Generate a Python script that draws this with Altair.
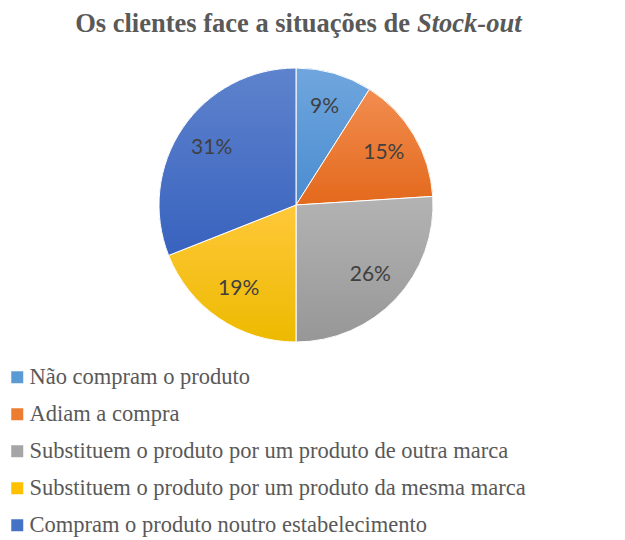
import altair as alt
import pandas as pd

categories = [
    "Não compram o produto",
    "Adiam a compra",
    "Substituem o produto por um produto de outra marca",
    "Substituem o produto por um produto da mesma marca",
    "Compram o produto noutro estabelecimento",
]
values = [9, 15, 26, 19, 31]
labels = ["9%", "15%", "26%", "19%", "31%"]
base_colors = ["#5B9BD5", "#ED7D31", "#A5A5A5", "#FFC000", "#4472C4"]
grad_top = ["#70A6DE", "#F28D50", "#B3B3B3", "#FFC83A", "#5E83CD"]
grad_bottom = ["#4A8CD0", "#E3691C", "#979797", "#EDBA00", "#3862BE"]

df = pd.DataFrame({"cat": categories, "value": values, "label": labels, "idx": list(range(len(categories)))})

CX, CY, R = 288, 197, 137
SERIF = "Liberation Serif"

def grad(top, bottom):
    return {"gradient": "linear", "x1": 0, "y1": 0, "x2": 0, "y2": 1,
            "stops": [{"offset": 0, "color": top}, {"offset": 1, "color": bottom}]}

base = alt.Chart(df).encode(
    theta=alt.Theta("value:Q", stack=True),
    order=alt.Order("idx:Q", sort="ascending"),
    x=alt.value(CX), y=alt.value(CY),
)

legend_layer = base.mark_arc(outerRadius=R).encode(
    color=alt.Color("cat:N", scale=alt.Scale(domain=categories, range=base_colors),
                    sort=categories,
                    legend=alt.Legend(title=None, orient="none", legendX=-2, legendY=358,
                                      symbolType="square", symbolSize=144,
                                      symbolStrokeWidth=0,
                                      labelFont=SERIF, labelFontSize=22.5,
                                      labelColor="#595959", labelOffset=1,
                                      labelLimit=700, rowPadding=14))
)

fill_cond = alt.when(alt.datum.cat == categories[0]).then(alt.value(grad(grad_top[0], grad_bottom[0])))
for i in range(1, len(categories) - 1):
    fill_cond = fill_cond.when(alt.datum.cat == categories[i]).then(alt.value(grad(grad_top[i], grad_bottom[i])))
fill_cond = fill_cond.otherwise(alt.value(grad(grad_top[-1], grad_bottom[-1])))

grad_layer = base.mark_arc(outerRadius=R, stroke="white", strokeWidth=1).encode(fill=fill_cond)

text_layer = base.mark_text(radius=102, font="Lato", fontSize=21, color="#404040").encode(
    text="label:N"
)

one = pd.DataFrame({"a": [0]})
SPLIT = 402
title1 = alt.Chart(one).mark_text(font=SERIF, fontSize=26.5, fontWeight="bold",
                                  color="#595959", align="right", baseline="alphabetic").encode(
    x=alt.value(SPLIT), y=alt.value(24), text=alt.value("Os clientes face a situações de"))
title2 = alt.Chart(one).mark_text(font=SERIF, fontSize=26.5, fontWeight="bold",
                                  fontStyle="italic", color="#595959", align="left",
                                  baseline="alphabetic").encode(
    x=alt.value(SPLIT + 7), y=alt.value(24), text=alt.value("Stock-out"))

chart = alt.layer(legend_layer, grad_layer, text_layer, title1, title2).properties(
    width=609, height=532, padding=0, autosize=alt.AutoSizeParams(type="none")
).configure_view(stroke=None)

chart.save("out.html", embed_options={"renderer": "svg", "actions": False})
